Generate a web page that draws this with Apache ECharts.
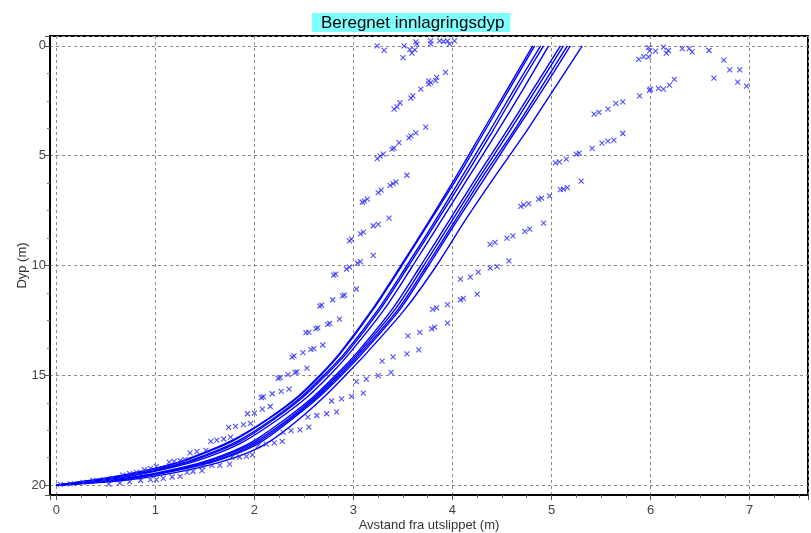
<!DOCTYPE html>
<html>
<head>
<meta charset="utf-8">
<title>Beregnet innlagringsdyp</title>
<script src="https://cdn.jsdelivr.net/npm/echarts@6/dist/echarts.min.js"></script>
<style>
  html, body { margin: 0; padding: 0; background: #fff; }
  #chart { width: 811px; height: 533px; }
</style>
</head>
<body>
<div id="chart"></div>
<script>
// depth levels (m) shared by all trajectory curves
const depthLevels = [20, 19.8, 19.5, 19, 18.5, 18, 17, 16, 15, 14, 12, 10, 8, 6, 4, 2, 0];

// horizontal distance (m) of each computed trajectory at the depth levels above
const traj1  = [0, 0.32, 0.72, 1.20, 1.50, 1.76, 2.13, 2.43, 2.66, 2.86, 3.19, 3.48, 3.76, 4.03, 4.29, 4.55, 4.81];
const traj2  = [0, 0.33, 0.74, 1.22, 1.52, 1.78, 2.14, 2.44, 2.67, 2.87, 3.20, 3.49, 3.77, 4.05, 4.31, 4.57, 4.83];
const traj3  = [0, 0.37, 0.79, 1.27, 1.58, 1.83, 2.18, 2.47, 2.70, 2.91, 3.25, 3.54, 3.82, 4.09, 4.36, 4.62, 4.89];
const traj4  = [0, 0.39, 0.82, 1.30, 1.61, 1.86, 2.20, 2.49, 2.72, 2.93, 3.27, 3.56, 3.84, 4.12, 4.39, 4.65, 4.92];
const traj5  = [0, 0.43, 0.86, 1.34, 1.66, 1.90, 2.24, 2.53, 2.76, 2.96, 3.31, 3.60, 3.88, 4.16, 4.44, 4.71, 4.97];
const traj6  = [0, 0.50, 0.95, 1.44, 1.76, 1.99, 2.31, 2.59, 2.82, 3.03, 3.39, 3.68, 3.96, 4.24, 4.53, 4.81, 5.09];
const traj7  = [0, 0.53, 0.98, 1.47, 1.79, 2.02, 2.34, 2.61, 2.84, 3.05, 3.42, 3.71, 3.99, 4.27, 4.56, 4.84, 5.12];
const traj8  = [0, 0.55, 1.01, 1.51, 1.83, 2.05, 2.36, 2.63, 2.86, 3.07, 3.45, 3.74, 4.02, 4.30, 4.60, 4.88, 5.16];
const traj9  = [0, 0.57, 1.03, 1.54, 1.86, 2.08, 2.38, 2.65, 2.88, 3.09, 3.47, 3.76, 4.04, 4.33, 4.62, 4.91, 5.19];
const traj10 = [0, 0.65, 1.12, 1.62, 1.95, 2.16, 2.45, 2.70, 2.92, 3.13, 3.52, 3.84, 4.12, 4.42, 4.73, 5.02, 5.31];

// plume edge markers [distance, depth], inner (left) side
const leftMarks = [
  [3.24,0.0],[3.31,0.2],[3.51,0.0],[3.50,0.53],[3.57,0.17],[3.62,0.18],[3.59,0.33],[3.63,-0.18],[3.64,-0.08],
  [3.78,-0.23],[3.78,-0.09],[3.87,-0.23],[3.91,-0.2],[3.95,-0.23],[3.97,-0.08],[4.02,-0.23],
  [3.93,1.21],[3.84,1.43],[3.83,1.58],[3.78,1.67],[3.76,1.59],[3.76,1.74],[3.68,1.97],[3.60,2.28],[3.58,2.38],[3.47,2.59],[3.44,2.78],[3.41,2.88],
  [3.73,3.70],[3.63,3.96],[3.58,4.10],[3.56,4.19],[3.46,4.40],[3.41,4.66],[3.39,4.70],[3.30,4.93],[3.27,5.02],[3.24,5.13],
  [3.54,5.89],[3.43,6.19],[3.40,6.27],[3.37,6.35],[3.28,6.57],[3.25,6.68],[3.14,6.98],[3.11,7.07],[3.09,7.12],
  [3.36,7.84],[3.25,8.13],[3.20,8.19],[3.10,8.48],[3.07,8.56],[2.98,8.80],[2.96,8.88],
  [3.20,9.54],[3.07,9.82],[3.04,9.89],[2.96,10.07],[2.93,10.16],[2.82,10.39],[2.80,10.44],
  [3.03,11.07],[2.91,11.35],[2.89,11.38],[2.79,11.56],[2.68,11.80],[2.66,11.85],
  [2.86,12.44],[2.76,12.64],[2.74,12.68],[2.64,12.84],[2.62,12.87],[2.55,13.05],[2.52,13.06],
  [2.69,13.62],[2.60,13.79],[2.57,13.82],[2.49,13.97],[2.40,14.12],[2.38,14.17],
  [2.53,14.67],[2.43,14.84],[2.41,14.87],[2.34,14.97],[2.26,15.10],[2.24,15.14],
  [2.35,15.63],[2.27,15.73],[2.18,15.84],[2.09,15.98],[2.07,16.01],
  [2.16,16.42],[2.08,16.54],[2.00,16.72],[1.93,16.75],
  [1.96,17.19],[1.89,17.25],[1.81,17.33],[1.74,17.37],
  [1.76,17.81],[1.69,17.90],[1.62,17.95],[1.56,18.01],
  [1.51,18.42],[1.42,18.48],[1.35,18.53],
  [1.30,18.84],[1.25,18.88],[1.19,18.92],[1.14,18.95],
  [1.01,19.15],[0.95,19.24],[0.89,19.30],
  [0.81,19.42],[0.74,19.48],[0.67,19.54],
  [0.56,19.69],[0.48,19.75],[0.37,19.79],
  [0.27,19.88],[0.14,19.94],[0.04,19.97]
];

// plume edge markers [distance, depth], outer (right) side
const rightMarks = [
  [5.98,0.08],[5.99,0.23],[6.05,0.24],[6.13,0.06],[6.18,0.21],[6.16,0.33],[6.32,0.12],[6.39,0.12],[6.42,0.27],
  [6.59,0.21],[6.74,0.65],[6.80,1.09],[6.90,1.09],[6.64,1.47],[6.88,1.65],[6.97,1.83],[5.88,0.61],[5.93,0.49],[5.98,0.50],
  [6.24,1.53],[6.19,1.79],[6.13,1.97],[6.08,1.93],[6.00,1.97],[5.99,2.02],[5.89,2.28],
  [5.72,2.55],[5.65,2.62],[5.57,2.88],[5.48,3.03],[5.43,3.11],
  [5.72,3.99],[5.63,4.29],[5.57,4.34],[5.51,4.43],[5.41,4.67],[5.28,4.88],[5.25,4.93],[5.15,5.16],[5.08,5.28],[5.04,5.33],
  [5.30,6.16],[5.16,6.45],[5.12,6.52],[5.09,6.55],[4.98,6.83],[4.90,6.93],[4.87,6.98],[4.77,7.18],[4.72,7.24],[4.69,7.31],
  [4.92,8.07],[4.78,8.34],[4.73,8.45],[4.61,8.65],[4.55,8.75],[4.43,8.95],[4.38,9.04],
  [4.57,9.79],[4.45,10.05],[4.38,10.12],[4.26,10.30],[4.18,10.53],[4.08,10.62],
  [4.25,11.30],[4.11,11.50],[4.08,11.56],[3.95,11.78],[3.84,11.93],[3.80,12.00],
  [3.95,12.62],[3.82,12.81],[3.79,12.88],[3.67,13.05],[3.55,13.20],
  [3.66,13.84],[3.54,14.02],[3.40,14.16],[3.29,14.35],
  [3.38,14.87],[3.25,15.01],[3.13,15.17],[3.03,15.29],
  [3.10,15.81],[2.98,15.96],[2.88,16.07],[2.78,16.17],
  [2.83,16.66],[2.73,16.75],[2.63,16.83],[2.54,16.90],
  [2.55,17.36],[2.46,17.48],[2.37,17.52],[2.29,17.60],
  [2.28,18.01],[2.20,18.08],[2.12,18.13],[2.04,18.19],
  [1.98,18.62],[1.92,18.69],[1.85,18.72],[1.77,18.74],
  [1.75,19.04],[1.65,19.10],[1.57,19.10],[1.48,19.15],
  [1.47,19.34],[1.38,19.38],[1.32,19.42],
  [1.25,19.60],[1.17,19.63],[1.08,19.69],
  [1.01,19.75],[0.95,19.75],[0.85,19.79],
  [0.74,19.85],[0.64,19.91],[0.53,19.95]
];

const trajectories = [traj1, traj2, traj3, traj4, traj5, traj6, traj7, traj8, traj9, traj10];

const FONT = '"Liberation Sans", Arial, sans-serif';
const gridLine = { show: true, lineStyle: { color: '#8a8a8a', type: [3, 3], width: 1 } };

const chart = echarts.init(document.getElementById('chart'), null, { renderer: 'canvas' });

const lineSeries = trajectories.map(function (xs, i) {
  return {
    name: 'traj' + (i + 1),
    type: 'line',
    smooth: 0.3,
    showSymbol: false,
    symbol: 'none',
    lineStyle: { color: '#0000ff', width: 1.4 },
    z: 3,
    data: xs.map(function (x, k) { return [x, depthLevels[k]]; })
  };
});

const markStyle = {
  type: 'scatter',
  symbol: 'path://M0 0L10 10M10 0L0 10',
  symbolSize: 5,
  itemStyle: { color: 'rgba(0,0,0,0)', borderColor: '#3030ff', borderWidth: 1.1, opacity: 0.85 },
  z: 4
};

chart.setOption({
  animation: false,
  backgroundColor: '#ffffff',
  textStyle: { fontFamily: FONT },
  title: {
    text: 'Beregnet innlagringsdyp',
    left: 312,
    top: 13,
    padding: [1, 6, 0, 9],
    backgroundColor: '#80ffff',
    textStyle: { fontFamily: FONT, fontSize: 17, fontWeight: 'normal', color: '#000', lineHeight: 18 }
  },
  grid: {
    left: 50, right: 3, top: 36, bottom: 38,
    containLabel: false,
    outerBoundsMode: 'none',
    show: true, borderColor: '#000', borderWidth: 2, backgroundColor: '#fff'
  },
  xAxis: {
    type: 'value',
    min: -0.064,
    max: 7.59,
    splitNumber: 8,
    name: 'Avstand fra utslippet (m)',
    nameLocation: 'middle',
    nameGap: 24,
    nameMoveOverlap: false,
    nameTextStyle: { fontFamily: FONT, fontSize: 13, color: '#333' },
    axisLine: { show: true, onZero: false, lineStyle: { color: '#000', width: 2 } },
    axisTick: { show: true, length: 5, lineStyle: { color: '#555' } },
    minorTick: { show: true, splitNumber: 4, length: 3, lineStyle: { color: '#777' } },
    axisLabel: { fontFamily: FONT, fontSize: 13, color: '#444', margin: 9, showMinLabel: false, showMaxLabel: false },
    splitLine: gridLine
  },
  yAxis: {
    type: 'value',
    inverse: true,
    min: -0.45,
    max: 20.45,
    splitNumber: 4,
    name: 'Dyp (m)',
    nameLocation: 'middle',
    nameGap: 21,
    nameMoveOverlap: false,
    nameTextStyle: { fontFamily: FONT, fontSize: 13, color: '#333' },
    axisLine: { show: true, onZero: false, lineStyle: { color: '#000', width: 2 } },
    axisTick: { show: true, length: 5, lineStyle: { color: '#555' } },
    minorTick: { show: true, splitNumber: 4, length: 3, lineStyle: { color: '#777' } },
    axisLabel: { fontFamily: FONT, fontSize: 13, color: '#444', margin: 4, showMinLabel: false, showMaxLabel: false },
    splitLine: gridLine
  },
  series: lineSeries.concat([
    Object.assign({ name: 'inner', data: leftMarks }, markStyle),
    Object.assign({ name: 'outer', data: rightMarks }, markStyle)
  ])
});
</script>
</body>
</html>
